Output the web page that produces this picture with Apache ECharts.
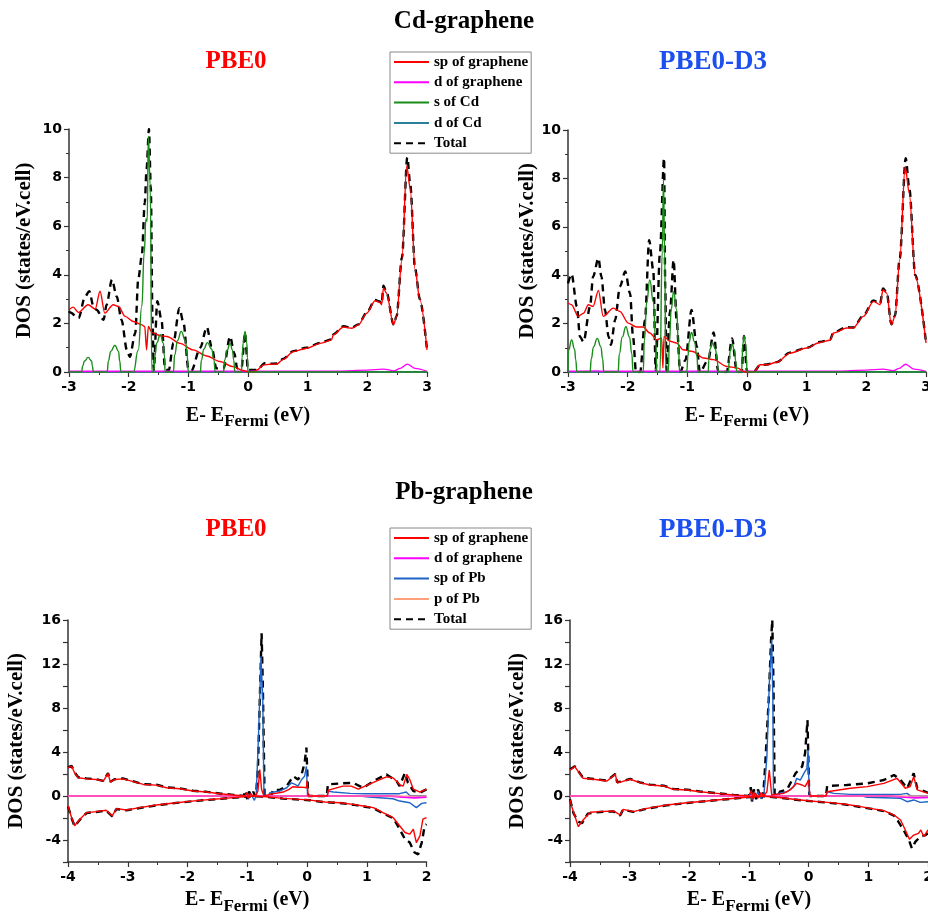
<!DOCTYPE html>
<html><head><meta charset="utf-8">
<script src="https://cdn.jsdelivr.net/npm/echarts@6/dist/echarts.min.js"></script>
<style>html,body{margin:0;padding:0;background:#fff}#c{width:928px;height:920px}</style>
</head><body><div id="c"></div>
<script>
// ---------- Cd-graphene, PBE0 ----------
const cd1Sp = [[-3,2.56],[-2.93,2.67],[-2.84,2.45],[-2.68,2.77],[-2.56,2.59],[-2.48,3.32],[-2.40,2.42],[-2.26,2.77],[-2.17,2.70],[-2.06,2.29],[-1.92,2.08],[-1.78,1.94],[-1.73,1.87],[-1.70,0.91],[-1.67,1.87],[-1.61,1.62],[-1.47,1.49],[-1.36,1.46],[-1.14,1.18],[-0.92,0.91],[-0.69,0.66],[-0.47,0.43],[-0.25,0.22],[-0.08,0.06],[0,0.01],[0.09,0],[0.15,0.08],[0.26,0.29],[0.37,0.32],[0.48,0.33],[0.59,0.52],[0.76,0.84],[0.98,0.98],[1.21,1.18],[1.40,1.32],[1.43,1.53],[1.60,1.85],[1.74,1.80],[1.85,1.94],[1.99,2.42],[2.13,2.93],[2.21,2.87],[2.24,2.77],[2.27,3.46],[2.32,3.25],[2.44,1.94],[2.49,2.29],[2.58,4.63],[2.66,8.49],[2.72,7.52],[2.80,4.21],[2.88,2.98],[3.0,0.91]];
const cd1Dg = [[-3,0.03],[1.5,0.04],[2.0,0.08],[2.27,0.12],[2.45,0.05],[2.55,0.15],[2.67,0.32],[2.8,0.15],[3,0.03]];
const cd1S = [[-3,0],[-2.79,0],[-2.77,0.25],[-2.74,0.45],[-2.68,0.6],[-2.62,0.45],[-2.61,0.25],[-2.59,0],[-2.36,0],[-2.34,0.45],[-2.30,0.85],[-2.23,1.1],[-2.17,0.85],[-2.15,0.45],[-2.13,0],[-1.92,0],[-1.84,0.9],[-1.78,2.7],[-1.74,4.9],[-1.71,6.3],[-1.69,6.2],[-1.67,9.7],[-1.64,7.7],[-1.61,0],[-1.58,0],[-1.56,0.65],[-1.53,1.2],[-1.47,1.53],[-1.42,1.2],[-1.40,0.65],[-1.39,0],[-1.25,0],[-1.23,0.7],[-1.18,1.3],[-1.12,1.67],[-1.05,1.3],[-1.02,0.7],[-1.0,0],[-0.80,0],[-0.78,0.5],[-0.74,0.95],[-0.68,1.21],[-0.61,0.95],[-0.57,0.5],[-0.55,0],[-0.41,0],[-0.39,0.5],[-0.35,0.9],[-0.30,1.18],[-0.26,0.9],[-0.24,0.5],[-0.22,0],[-0.11,0],[-0.10,0.6],[-0.08,1.2],[-0.05,1.67],[-0.02,1.2],[-0.01,0.6],[0,0],[3,0]];
const cd1Dcd = [[-3,0],[3,0]];
const cd1Tot = [[-3,2.5],[-2.98,2.45],[-2.84,2.22],[-2.73,3.11],[-2.66,3.32],[-2.59,2.70],[-2.54,2.56],[-2.42,2.15],[-2.37,2.77],[-2.28,3.80],[-2.20,3.11],[-2.12,2.15],[-2.03,0.91],[-1.98,0.63],[-1.89,1.60],[-1.84,3.80],[-1.78,4.77],[-1.73,6.97],[-1.70,8.35],[-1.66,10.0],[-1.63,7.66],[-1.60,2.15],[-1.58,0.08],[-1.52,2.91],[-1.45,2.15],[-1.39,0.15],[-1.33,0.05],[-1.25,1.2],[-1.15,2.63],[-1.08,2.01],[-1.0,0.15],[-0.95,0.05],[-0.80,1.0],[-0.69,1.85],[-0.61,1.05],[-0.53,0.15],[-0.41,0.15],[-0.30,1.46],[-0.23,0.77],[-0.18,0.15],[-0.11,0.15],[-0.05,1.6],[0,0.08],[0.15,0.08],[0.28,0.36],[0.37,0.34],[0.48,0.35],[0.59,0.54],[0.76,0.86],[0.98,1.0],[1.21,1.2],[1.40,1.34],[1.43,1.55],[1.60,1.88],[1.74,1.82],[1.85,1.96],[1.99,2.45],[2.13,2.96],[2.21,2.9],[2.24,2.8],[2.27,3.55],[2.32,3.3],[2.44,1.95],[2.49,2.3],[2.58,4.7],[2.67,8.83],[2.72,7.7],[2.80,4.25],[2.88,3.0],[3.0,0.92]];

// ---------- Cd-graphene, PBE0-D3 ----------
const cd2Sp = [[-3,2.85],[-2.94,2.78],[-2.83,2.30],[-2.74,2.43],[-2.66,2.78],[-2.58,2.71],[-2.49,3.37],[-2.41,2.30],[-2.24,2.64],[-2.13,2.50],[-1.99,2.02],[-1.85,1.86],[-1.74,1.86],[-1.63,1.61],[-1.51,1.33],[-1.43,1.40],[-1.41,0.17],[-1.39,1.47],[-1.29,1.27],[-1.18,1.20],[-1.07,0.92],[-0.91,0.85],[-0.73,0.58],[-0.56,0.51],[-0.34,0.23],[-0.17,0.17],[-0.03,0],[0.11,0],[0.22,0.30],[0.33,0.30],[0.50,0.40],[0.72,0.78],[1.0,0.99],[1.22,1.22],[1.39,1.31],[1.45,1.61],[1.67,1.82],[1.78,1.82],[1.95,2.30],[2.12,2.92],[2.23,2.78],[2.28,3.40],[2.34,3.26],[2.42,1.95],[2.48,2.30],[2.56,4.64],[2.65,8.49],[2.72,7.39],[2.82,3.95],[3.0,1.2]];
const cd2Dg = [[-3,0.03],[-2.5,0.05],[-2.4,0.03],[1.5,0.04],[2.0,0.08],[2.28,0.12],[2.45,0.05],[2.55,0.15],[2.66,0.32],[2.8,0.12],[3,0.03]];
const cd2S = [[-3,0],[-2.99,0.9],[-2.94,1.32],[-2.89,0.95],[-2.87,0.5],[-2.85,0],[-2.63,0],[-2.61,0.55],[-2.57,1.05],[-2.51,1.39],[-2.45,1.05],[-2.42,0.55],[-2.40,0],[-2.16,0],[-2.14,0.75],[-2.09,1.45],[-2.03,1.87],[-1.97,1.45],[-1.93,0.75],[-1.91,0],[-1.74,0],[-1.72,1.3],[-1.68,2.9],[-1.63,3.80],[-1.57,2.9],[-1.53,1.3],[-1.51,0],[-1.46,0],[-1.42,5.0],[-1.40,7.93],[-1.38,5.0],[-1.36,0],[-1.32,0],[-1.30,1.2],[-1.27,2.6],[-1.23,3.32],[-1.18,2.6],[-1.15,1.2],[-1.13,0],[-1.01,0],[-0.99,0.65],[-0.97,1.25],[-0.93,1.63],[-0.88,1.25],[-0.84,0.65],[-0.82,0],[-0.65,0],[-0.64,0.5],[-0.62,0.95],[-0.58,1.21],[-0.53,0.95],[-0.50,0.5],[-0.48,0],[-0.31,0],[-0.30,0.45],[-0.28,0.9],[-0.25,1.16],[-0.21,0.9],[-0.19,0.45],[-0.17,0],[-0.09,0],[-0.08,0.6],[-0.07,1.15],[-0.05,1.49],[-0.02,1.15],[-0.01,0.6],[0,0],[3,0]];
const cd2Dcd = [[-3,0],[3,0]];
const cd2Tot = [[-3,3.66],[-2.94,4.05],[-2.85,2.70],[-2.80,1.46],[-2.74,1.25],[-2.63,2.70],[-2.58,3.94],[-2.49,4.70],[-2.44,3.94],[-2.38,2.56],[-2.32,1.46],[-2.28,1.12],[-2.21,2.15],[-2.13,3.53],[-2.04,4.15],[-1.96,3.25],[-1.91,1.46],[-1.86,0],[-1.79,0],[-1.71,2.15],[-1.64,5.45],[-1.57,4.2],[-1.53,0.08],[-1.46,4.9],[-1.39,8.83],[-1.37,3.5],[-1.35,0.05],[-1.29,2.5],[-1.23,4.63],[-1.18,2.15],[-1.12,0],[-1.03,0.5],[-0.93,2.56],[-0.84,1.05],[-0.79,0],[-0.65,0.5],[-0.56,1.63],[-0.48,0],[-0.34,0],[-0.25,1.39],[-0.17,0],[-0.09,0],[-0.05,1.49],[0,0],[0.11,0],[0.22,0.29],[0.33,0.31],[0.50,0.41],[0.72,0.8],[1.0,1.0],[1.22,1.24],[1.39,1.33],[1.45,1.63],[1.67,1.85],[1.78,1.84],[1.95,2.33],[2.12,2.96],[2.23,2.82],[2.28,3.45],[2.34,3.3],[2.42,1.97],[2.48,2.33],[2.56,4.7],[2.66,8.83],[2.72,7.6],[2.82,4.0],[3.0,1.22]];

// ---------- Pb-graphene, PBE0 ----------
const pb1SpUp = [[-4,2.56],[-3.94,2.71],[-3.89,2.11],[-3.83,1.66],[-3.69,1.56],[-3.53,1.50],[-3.41,1.35],[-3.33,2.05],[-3.29,1.26],[-3.22,1.50],[-3.08,1.56],[-2.94,1.35],[-2.74,1.05],[-2.52,0.99],[-2.35,0.75],[-2.13,0.66],[-1.91,0.45],[-1.68,0.36],[-1.46,0.21],[-1.24,0.09],[-1.04,0.0],[-1.0,0.3],[-0.98,-0.2],[-0.95,0.2],[-0.9,0.0],[-0.85,0.1],[-0.82,0.5],[-0.79,2.41],[-0.76,0.6],[-0.72,0],[-0.62,0.15],[-0.40,0.36],[-0.30,0.6],[-0.24,0.84],[-0.15,0.8],[-0.09,0.81],[-0.01,0.75],[0.0,1.40],[0.02,0],[0.34,0],[0.36,0.54],[0.60,0.90],[0.74,0.90],[0.86,0.62],[1.0,0.96],[1.16,1.35],[1.33,1.74],[1.44,1.65],[1.56,1.0],[1.61,0.90],[1.67,1.96],[1.72,1.50],[1.78,0.62],[1.89,0.36],[2.0,0.62]];
const pb1SpDn = [[-4,-0.91],[-3.94,-1.96],[-3.89,-2.71],[-3.80,-2.11],[-3.69,-1.51],[-3.53,-1.42],[-3.36,-1.30],[-3.26,-1.81],[-3.19,-1.15],[-3.02,-1.27],[-2.80,-1.06],[-2.52,-0.82],[-2.19,-0.61],[-1.80,-0.40],[-1.46,-0.25],[-1.13,-0.10],[-0.90,0.0],[-0.68,-0.07],[-0.40,-0.22],[-0.12,-0.31],[0.05,-0.37],[0.30,-0.55],[0.55,-0.61],[0.77,-0.76],[0.94,-0.91],[1.11,-1.06],[1.27,-1.51],[1.44,-1.96],[1.55,-2.71],[1.64,-3.32],[1.72,-3.47],[1.78,-3.02],[1.83,-4.24],[1.89,-3.62],[1.94,-2.11],[2.0,-1.96]];
const pb1Dg = [[-4,0],[1.4,0],[1.6,-0.1],[1.8,-0.15],[2.0,-0.1]];
const pb1PbUp = [[-4,0],[-1.04,0],[-1.0,0.2],[-0.98,-0.3],[-0.95,0.2],[-0.92,0],[-0.88,-0.4],[-0.85,0.1],[-0.81,5.7],[-0.77,12.7],[-0.74,8.75],[-0.72,0],[-0.65,0],[-0.62,0.3],[-0.46,0.45],[-0.34,0.75],[-0.26,1.2],[-0.20,1.05],[-0.15,0.9],[-0.09,1.5],[-0.04,1.8],[-0.01,2.7],[0.01,0],[0.34,0],[0.35,0.45],[0.44,0.36],[0.72,0.24],[0.99,0.21],[1.55,0.21],[1.66,0.36],[1.72,0.05],[2.0,0]];
const pb1PbDn = [[-4,0],[0.9,0],[0.99,-0.07],[1.44,-0.25],[1.55,-0.46],[1.72,-0.61],[1.83,-1.06],[1.92,-0.67],[2.0,-0.61]];
const pb1P = [[-4,0],[2,0]];
const pb1TotUp = [[-4,2.6],[-3.94,2.75],[-3.89,2.15],[-3.83,1.7],[-3.69,1.6],[-3.53,1.52],[-3.41,1.38],[-3.33,2.08],[-3.29,1.3],[-3.22,1.52],[-3.08,1.6],[-2.94,1.38],[-2.74,1.08],[-2.52,1.02],[-2.35,0.78],[-2.13,0.69],[-1.91,0.48],[-1.68,0.38],[-1.46,0.23],[-1.24,0.1],[-1.06,0],[-1.03,0.5],[-1.0,-0.3],[-0.97,0.4],[-0.93,0],[-0.9,0.4],[-0.87,0],[-0.85,0.3],[-0.82,2.7],[-0.79,8.75],[-0.76,14.8],[-0.74,10.3],[-0.71,0],[-0.6,0],[-0.57,0.54],[-0.46,0.54],[-0.34,0.9],[-0.23,1.8],[-0.15,1.5],[-0.09,1.96],[-0.04,3.0],[-0.01,4.4],[0.02,0],[0.33,0],[0.35,1.05],[0.55,1.14],[0.77,1.20],[0.94,0.75],[1.16,1.50],[1.33,1.96],[1.50,1.35],[1.55,0.9],[1.64,2.11],[1.69,1.20],[1.78,0.45],[1.89,0.30],[2.0,0.60]];
const pb1TotDn = [[-4,-0.95],[-3.94,-2.0],[-3.89,-2.75],[-3.80,-2.15],[-3.69,-1.55],[-3.53,-1.45],[-3.36,-1.33],[-3.26,-1.85],[-3.19,-1.18],[-3.02,-1.3],[-2.80,-1.09],[-2.52,-0.85],[-2.19,-0.63],[-1.80,-0.42],[-1.46,-0.27],[-1.13,-0.11],[-0.90,0.0],[-0.68,-0.08],[-0.40,-0.24],[-0.12,-0.33],[0.05,-0.39],[0.30,-0.57],[0.55,-0.64],[0.77,-0.79],[0.94,-0.95],[1.11,-1.1],[1.27,-1.56],[1.44,-2.0],[1.52,-2.71],[1.64,-3.93],[1.72,-4.23],[1.80,-5.14],[1.86,-5.30],[1.92,-4.23],[1.97,-2.71],[2.0,-2.57]];

// ---------- Pb-graphene, PBE0-D3 ----------
const pb2SpUp = [[-4,2.36],[-3.92,2.67],[-3.86,2.21],[-3.78,1.61],[-3.61,1.52],[-3.38,1.36],[-3.24,1.97],[-3.21,1.21],[-3.13,1.30],[-2.99,1.52],[-2.83,1.21],[-2.66,1.0],[-2.43,0.91],[-2.27,0.61],[-2.04,0.55],[-1.82,0.39],[-1.54,0.24],[-1.26,0.09],[-1.0,0],[-0.96,0.5],[-0.93,-0.3],[-0.9,0.3],[-0.85,-0.2],[-0.8,0.3],[-0.75,0],[-0.70,0.39],[-0.66,2.36],[-0.62,0.09],[-0.42,0.24],[-0.31,0.55],[-0.20,1.15],[-0.11,1.0],[-0.06,0.85],[0.0,1.45],[0.02,0],[0.29,0],[0.31,0.39],[0.70,0.70],[0.98,0.85],[1.26,1.15],[1.48,1.61],[1.62,0.70],[1.70,0.85],[1.76,1.76],[1.82,0.55],[2.0,0.24]];
const pb2SpDn = [[-4,-0.36],[-3.97,-0.97],[-3.86,-2.79],[-3.78,-2.18],[-3.66,-1.48],[-3.5,-1.42],[-3.27,-1.36],[-3.16,-1.73],[-3.11,-1.21],[-2.94,-1.42],[-2.71,-1.12],[-2.38,-0.82],[-2.04,-0.61],[-1.71,-0.45],[-1.37,-0.27],[-1.04,-0.12],[-0.8,0],[-0.53,-0.12],[-0.25,-0.30],[0.03,-0.45],[0.31,-0.58],[0.59,-0.73],[0.87,-0.97],[1.03,-1.12],[1.26,-1.33],[1.43,-1.73],[1.54,-2.18],[1.62,-3.09],[1.69,-3.94],[1.76,-3.55],[1.84,-3.39],[1.88,-3.09],[1.93,-3.70],[2.0,-3.09]];
const pb2Dg = [[-4,0],[1.4,0],[1.6,-0.1],[1.8,-0.15],[2.0,-0.12]];
const pb2PbUp = [[-4,0],[-1.0,0],[-0.97,0.4],[-0.95,-0.4],[-0.92,0.3],[-0.88,0],[-0.85,0.4],[-0.8,-0.2],[-0.75,0.1],[-0.70,3.58],[-0.66,10.2],[-0.62,14.2],[-0.60,8.7],[-0.59,0],[-0.5,0.24],[-0.36,0.39],[-0.25,0.85],[-0.20,1.61],[-0.14,1.45],[-0.08,2.06],[-0.03,2.52],[-0.01,4.2],[0.01,0],[0.29,0],[0.31,0.39],[0.42,0.24],[0.70,0.15],[1.54,0.15],[1.65,0.24],[1.70,0.03],[2.0,0]];
const pb2PbDn = [[-4,0],[0.9,0],[0.98,-0.12],[1.54,-0.21],[1.65,-0.52],[1.76,-0.36],[1.87,-0.58],[2.0,-0.52]];
const pb2P = [[-4,0],[2,0]];
const pb2TotUp = [[-4,2.4],[-3.92,2.7],[-3.86,2.25],[-3.78,1.65],[-3.61,1.55],[-3.38,1.4],[-3.24,2.0],[-3.21,1.25],[-3.13,1.33],[-2.99,1.55],[-2.83,1.24],[-2.66,1.03],[-2.43,0.94],[-2.27,0.64],[-2.04,0.58],[-1.82,0.41],[-1.54,0.26],[-1.26,0.1],[-1.0,0],[-0.97,0.8],[-0.95,-0.5],[-0.92,0.6],[-0.88,-0.3],[-0.85,0.6],[-0.8,-0.3],[-0.76,0.2],[-0.73,2.67],[-0.67,8.73],[-0.63,14.2],[-0.61,16.0],[-0.59,10.2],[-0.57,0],[-0.5,0.2],[-0.48,0.39],[-0.36,0.61],[-0.22,2.06],[-0.17,2.36],[-0.11,2.67],[-0.06,3.88],[-0.02,6.9],[0.01,0],[0.29,0],[0.31,0.91],[0.64,1.0],[0.98,1.15],[1.26,1.45],[1.43,1.91],[1.54,1.45],[1.65,0.70],[1.76,2.06],[1.82,0.7],[2.0,0.30]];
const pb2TotDn = [[-4,-0.3],[-3.94,-1.58],[-3.86,-2.33],[-3.80,-2.48],[-3.7,-1.6],[-3.5,-1.45],[-3.27,-1.4],[-3.16,-1.78],[-3.11,-1.24],[-2.94,-1.45],[-2.71,-1.15],[-2.38,-0.85],[-2.04,-0.63],[-1.71,-0.47],[-1.37,-0.29],[-1.04,-0.13],[-0.8,0],[-0.53,-0.13],[-0.25,-0.32],[0.03,-0.47],[0.31,-0.6],[0.59,-0.76],[0.87,-1.0],[1.03,-1.15],[1.26,-1.37],[1.43,-1.78],[1.50,-2.3],[1.59,-3.09],[1.68,-4.0],[1.73,-4.76],[1.79,-4.15],[1.87,-3.70],[1.96,-3.55],[2.0,-3.39]];

// ---------- axis ranges / labels ----------
const cdXRange = [-3, 3];
const cdYRange = [0, 10];
const pbXRange = [-4, 2];
const pbYRange = [-6, 16];
const legendCd = ['sp of graphene','d of graphene','s of Cd','d of Cd','Total'];
const legendPb = ['sp of graphene','d of graphene','sp of Pb','p of Pb','Total'];

const SERIF = '"Liberation Serif","Times New Roman",serif';
const SANS = '"DejaVu Sans",sans-serif';
const C = {red:'#ff0000', mag:'#ff00ff', green:'#1a8c1a', teal:'#2a7f9a', blue:'#1f63c6', orange:'#ffa07a', black:'#000000'};

const gridBase = {outerBoundsMode:'none', containLabel:false};
const grids = [
  Object.assign({left:69, top:129, width:358, height:243}, gridBase),
  Object.assign({left:568, top:130, width:358, height:242}, gridBase),
  Object.assign({left:68, top:620, width:358.5, height:242}, gridBase),
  Object.assign({left:570, top:620, width:358, height:242}, gridBase)
];
const axLine = {show:true, onZero:false, lineStyle:{color:'#333', width:1.5}};
const axTick = {show:true, inside:false, length:5, lineStyle:{color:'#333', width:1.2}};
const lab = {color:'#000', fontFamily:SANS, fontWeight:'bold', fontSize:14};
const xName = '{a|E- E}{b|Fermi}{a| (eV)}';
const xRich = {
  a:{fontFamily:SERIF, fontWeight:'bold', fontSize:20, lineHeight:24, color:'#000', verticalAlign:'middle'},
  b:{fontFamily:SERIF, fontWeight:'bold', fontSize:17, lineHeight:17, padding:[13,0,0,0], color:'#000', verticalAlign:'middle'}
};
function xAx(i, r, gap){
  return {gridIndex:i, type:'value', min:r[0], max:r[1], interval:1,
    axisLine:axLine, axisTick:axTick,
    minorTick:{show:true, splitNumber:2, length:3, lineStyle:{color:'#333', width:1}},
    splitLine:{show:false}, minorSplitLine:{show:false},
    axisLabel:Object.assign({margin:8, hideOverlap:false}, lab),
    name:xName, nameLocation:'middle', nameGap:gap, nameTextStyle:{rich:xRich}};
}
function yAx(i, r, interval, gap, step, minor){
  return {gridIndex:i, type:'value', min:r[0], max:r[1], interval:interval,
    axisLine:axLine, axisTick:axTick,
    minorTick:{show:minor, splitNumber:2, length:3, lineStyle:{color:'#333', width:1}},
    splitLine:{show:false}, minorSplitLine:{show:false},
    axisLabel:Object.assign({margin:7, formatter:function(v){return (v % step === 0) ? String(v) : '';}}, lab),
    name:'DOS (states/eV.cell)', nameLocation:'middle', nameGap:gap,
    nameTextStyle:{fontFamily:SERIF, fontWeight:'bold', fontSize:21, color:'#000'}};
}
function ln(name, data, g, color, width, dashed, smooth){
  return {type:'line', name:name, data:data, xAxisIndex:g, yAxisIndex:g,
    symbol:'none', showSymbol:false, smooth:smooth, smoothMonotone:'x',
    lineStyle:{color:color, width:width, type:dashed ? [7,5] : 'solid'},
    itemStyle:{color:color}, silent:true, animation:false};
}
const S1 = 0.3, S2 = 0.5;
const series = [
  ln('Total', cd1Tot, 0, C.black, 2.4, true, S1),
  ln('d of Cd', cd1Dcd, 0, C.teal, 1.5, false, false),
  ln('d of graphene', cd1Dg, 0, C.mag, 1.3, false, S1),
  ln('sp of graphene', cd1Sp, 0, C.red, 1.4, false, S1),
  ln('s of Cd', cd1S, 0, C.green, 1.4, false, S2),

  ln('Total', cd2Tot, 1, C.black, 2.4, true, S1),
  ln('d of Cd', cd2Dcd, 1, C.teal, 1.5, false, false),
  ln('d of graphene', cd2Dg, 1, C.mag, 1.3, false, S1),
  ln('sp of graphene', cd2Sp, 1, C.red, 1.4, false, S1),
  ln('s of Cd', cd2S, 1, C.green, 1.4, false, S2),

  ln('Total', pb1TotUp, 2, C.black, 2.4, true, false),
  ln('Total', pb1TotDn, 2, C.black, 2.4, true, false),
  ln('sp of Pb', pb1PbUp, 2, C.blue, 1.4, false, false),
  ln('sp of Pb', pb1PbDn, 2, C.blue, 1.4, false, false),
  ln('d of graphene', pb1Dg, 2, C.mag, 2, false, false),
  ln('p of Pb', pb1P, 2, C.orange, 1.2, false, false),
  ln('sp of graphene', pb1SpUp, 2, C.red, 1.4, false, false),
  ln('sp of graphene', pb1SpDn, 2, C.red, 1.4, false, false),

  ln('Total', pb2TotUp, 3, C.black, 2.4, true, false),
  ln('Total', pb2TotDn, 3, C.black, 2.4, true, false),
  ln('sp of Pb', pb2PbUp, 3, C.blue, 1.4, false, false),
  ln('sp of Pb', pb2PbDn, 3, C.blue, 1.4, false, false),
  ln('d of graphene', pb2Dg, 3, C.mag, 2, false, false),
  ln('p of Pb', pb2P, 3, C.orange, 1.2, false, false),
  ln('sp of graphene', pb2SpUp, 3, C.red, 1.4, false, false),
  ln('sp of graphene', pb2SpDn, 3, C.red, 1.4, false, false)
];
function txt(s, x, y, color, size){
  return {type:'text', x:x, y:y, silent:true,
    style:{text:s, fill:color, fontFamily:SERIF, fontWeight:'bold', fontSize:size,
      align:'center', verticalAlign:'middle', textAlign:'center', textVerticalAlign:'middle'}};
}
const legendBase = {orient:'vertical', left:390, itemWidth:35, itemHeight:15, itemGap:5.3,
  padding:[2.5,3,2.5,3], borderColor:'#888', borderWidth:1, backgroundColor:'#fff', selectedMode:false,
  itemStyle:{opacity:0, borderWidth:0},
  textStyle:{fontFamily:SERIF, fontWeight:'bold', fontSize:15, color:'#000'}};

const chart = echarts.init(document.getElementById('c'), null, {renderer:'canvas'});
chart.setOption({
  animation:false,
  backgroundColor:'#fff',
  grid:grids,
  xAxis:[xAx(0, cdXRange, 31.5), xAx(1, cdXRange, 31.5), xAx(2, pbXRange, 25), xAx(3, pbXRange, 25)],
  yAxis:[yAx(0, cdYRange, 2, 33.5, 2, true), yAx(1, cdYRange, 2, 29.5, 2, true), yAx(2, pbYRange, 2, 40.5, 4, false), yAx(3, pbYRange, 2, 41.5, 4, false)],
  legend:[
    Object.assign({}, legendBase, {top:52, data:legendCd}),
    Object.assign({}, legendBase, {top:528, data:legendPb})
  ],
  graphic:[
    txt('Cd-graphene', 464, 22, '#000', 25),
    txt('PBE0', 236, 62, '#ff0000', 25),
    txt('PBE0-D3', 713, 62, '#1c4ff0', 27),
    txt('Pb-graphene', 464, 493, '#000', 25),
    txt('PBE0', 236, 530, '#ff0000', 25),
    txt('PBE0-D3', 713, 530, '#1c4ff0', 27)
  ],
  series:series
});
</script>
</body></html>
